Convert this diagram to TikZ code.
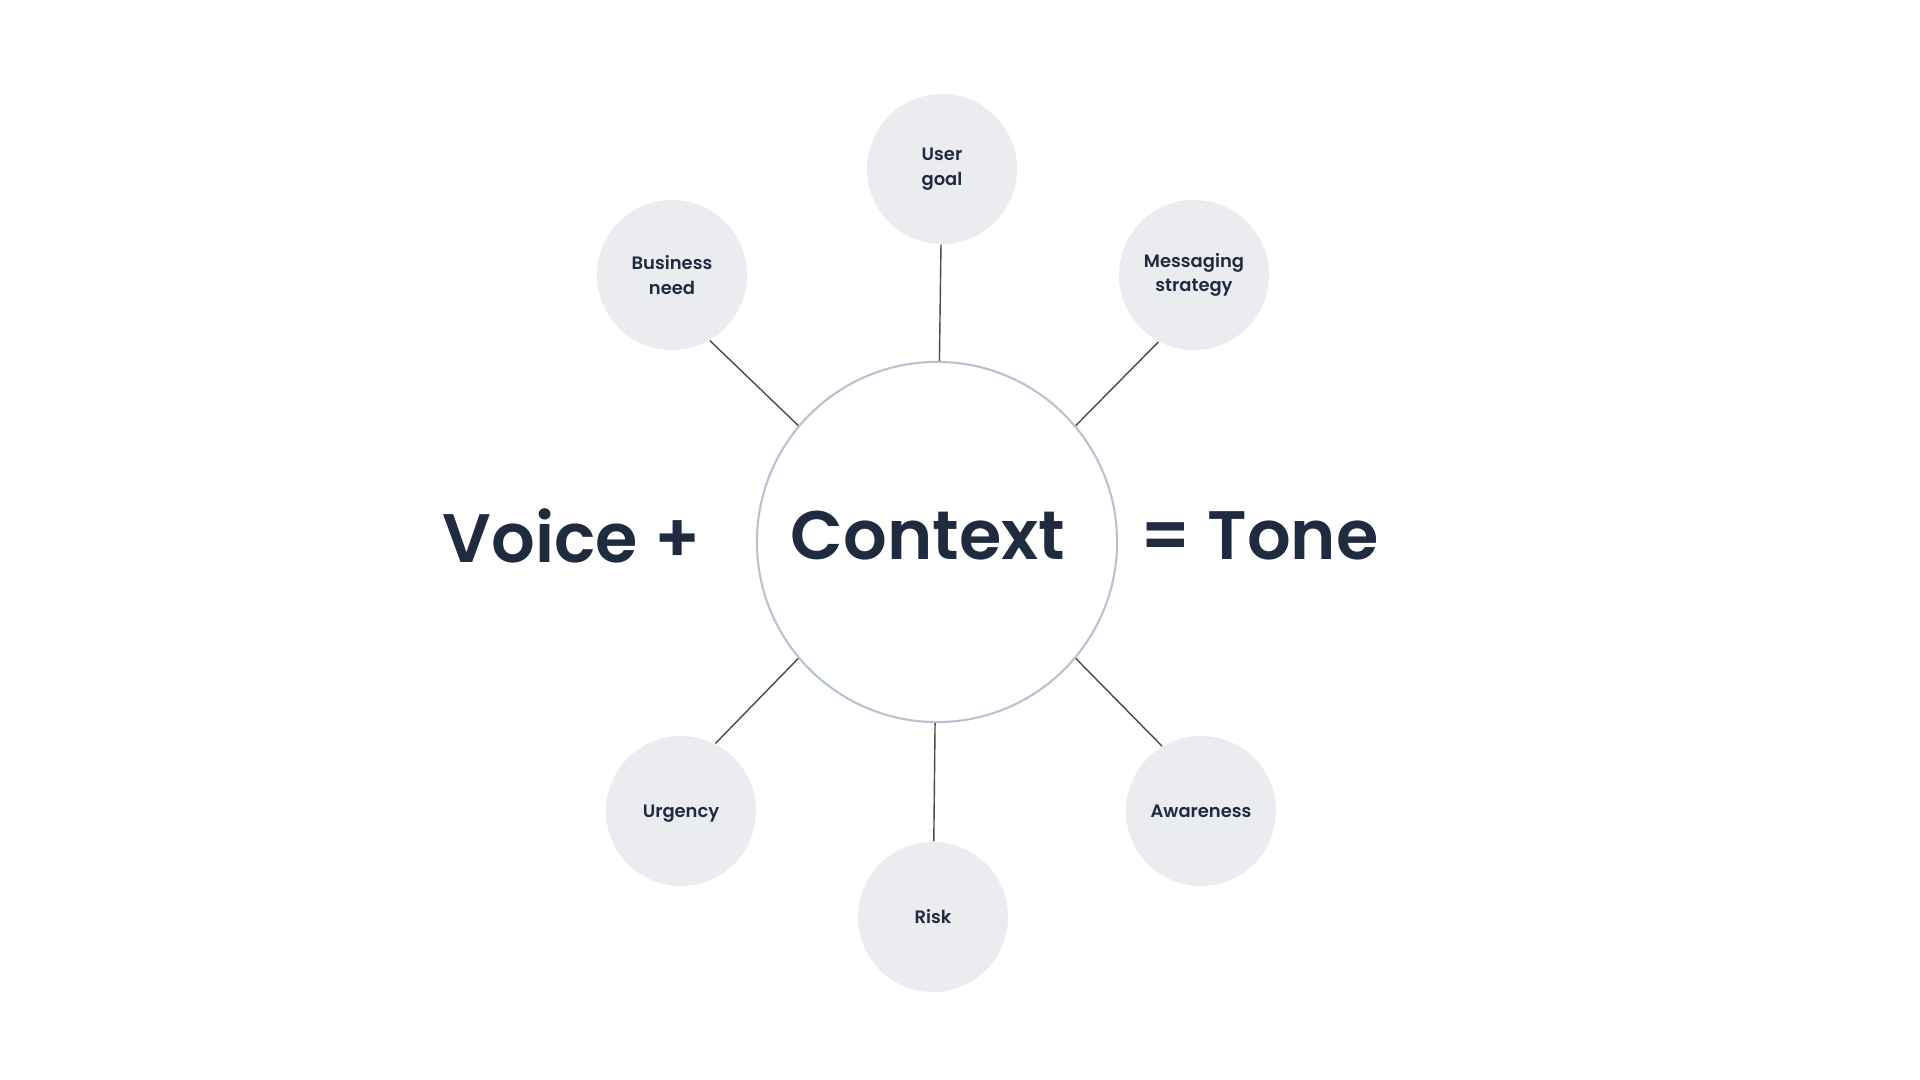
\documentclass[tikz,border=0pt]{standalone}
\usepackage{fontspec}
\setmainfont{Poppins}[BoldFont={Poppins SemiBold}]
\definecolor{ink}{HTML}{1F2B3E}
\definecolor{bubble}{HTML}{EBECF0}
\definecolor{rim}{HTML}{B7C3D1}
\definecolor{wire}{HTML}{4A4A4A}
\tikzset{
  factor/.style={circle, fill=bubble, minimum size=1.5cm, inner sep=0pt, align=center,
    text=ink, font=\bfseries\fontsize{5.1}{7}\selectfont},
  hub/.style={circle, draw=rim, line width=0.6pt, fill=white, minimum size=3.6cm, inner sep=0pt},
  big/.style={text=ink, font=\bfseries\fontsize{19.5}{24}\selectfont, inner sep=0pt},
  link/.style={draw=wire, line width=0.4pt}
}
\begin{document}
\begin{tikzpicture}[x=0.01cm,y=-0.01cm]
\useasboundingbox (0,0) rectangle (1920,1080);
\node[hub] (context) at (937,542) {};
\node[factor] (goal) at (942,169) {User\\goal};
\node[factor] (business) at (672,275) {Business\\need};
\node[factor] (messaging) at (1194,275) {Messaging\\strategy};
\node[factor, text depth=0pt] (urgency) at (681,811) {Urgency};
\node[factor] (risk) at (933,917) {Risk};
\node[factor] (awareness) at (1201,811) {Awareness};

\node[big] (ctxlabel) at (928,536) {Context};
\node[big, anchor=east] (voice) at (701,536) {Voice +};
\node[big, anchor=west] (tone) at (1140,536) {= Tone};

\draw[link] (goal) -- (context);
\draw[link] (business.300) -- (context.140);
\draw[link] (messaging.242) -- (context.40);
\draw[link] (urgency.63) -- (context.220);
\draw[link] (risk) -- (context);
\draw[link] (awareness.121) -- (context.320);
\end{tikzpicture}
\end{document}
